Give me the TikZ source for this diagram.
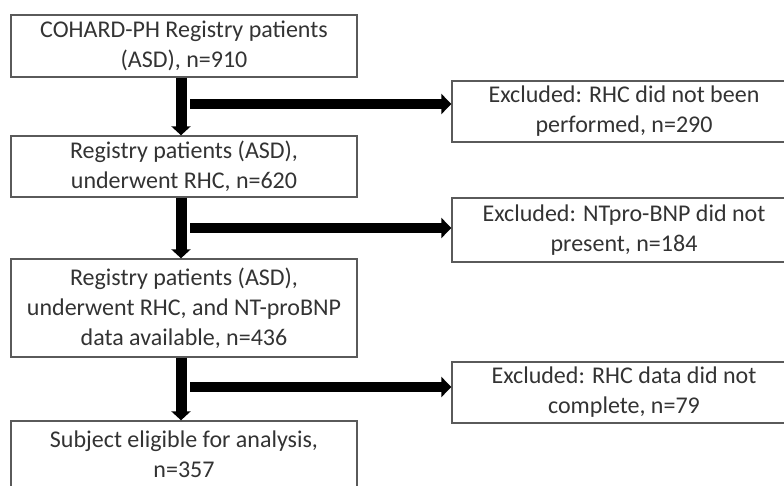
\documentclass[tikz,border=0pt]{standalone}
\usepackage{fontspec}
\setmainfont{Carlito}
\usetikzlibrary{arrows.meta}
\definecolor{txt}{HTML}{333333}
\definecolor{frame}{HTML}{5A5A5A}
\tikzset{
  box/.style={draw=frame, line width=1.4pt, fill=white, text=txt, align=center,
    inner sep=0pt, font=\fontsize{24}{30}\selectfont},
  varrow/.style={line width=11pt, -{Triangle[width=19pt,length=9pt]}},
  harrow/.style={line width=10pt, -{Triangle[width=20pt,length=10pt]}},
}
\begin{document}
\begin{tikzpicture}[x=1pt,y=-1pt]
  \useasboundingbox (0,0) rectangle (784,486);
  \clip (0,0) rectangle (784,486);
  % main flow
  \node[box, minimum width=346pt, minimum height=62pt] (b1) at (184,46)
    {COHARD-PH Registry patients\\(ASD), n=910};
  \node[box, minimum width=346pt, minimum height=61pt] (b2) at (184,166.5)
    {Registry patients (ASD),\\underwent RHC, n=620};
  \node[box, minimum width=346pt, minimum height=98pt] (b3) at (184,308)
    {Registry patients (ASD),\\underwent RHC, and NT-proBNP\\data available, n=436};
  \node[box, minimum width=346pt, minimum height=96pt] (b4) at (184,469)
    {Subject eligible for analysis,\\n=357\\\phantom{x}};
  % excluded
  \node[box, minimum width=344pt, minimum height=61pt] (e1) at (624,111.5)
    {Excluded: RHC did not been\\performed, n=290};
  \node[box, minimum width=344pt, minimum height=64pt] (e2) at (624,230)
    {Excluded: NTpro-BNP did not\\present, n=184};
  \node[box, minimum width=344pt, minimum height=61pt] (e3) at (624,392.5)
    {Excluded: RHC data did not\\complete, n=79};
  % spine coordinates
  \coordinate (s1) at (181,104);
  \coordinate (s2) at (181,228);
  \coordinate (s3) at (181,387);
  % vertical arrows
  \draw[varrow] (b1.south -| s1) -- (b2.north -| s1);
  \draw[varrow] (b2.south -| s2) -- (b3.north -| s2);
  \draw[varrow] (b3.south -| s3) -- (b4.north -| s3);
  % side arrows
  \draw[harrow] ([xshift=9pt]s1) -- (e1.west |- s1);
  \draw[harrow] ([xshift=9pt]s2) -- (e2.west |- s2);
  \draw[harrow] ([xshift=9pt]s3) -- (e3.west |- s3);
\end{tikzpicture}
\end{document}
